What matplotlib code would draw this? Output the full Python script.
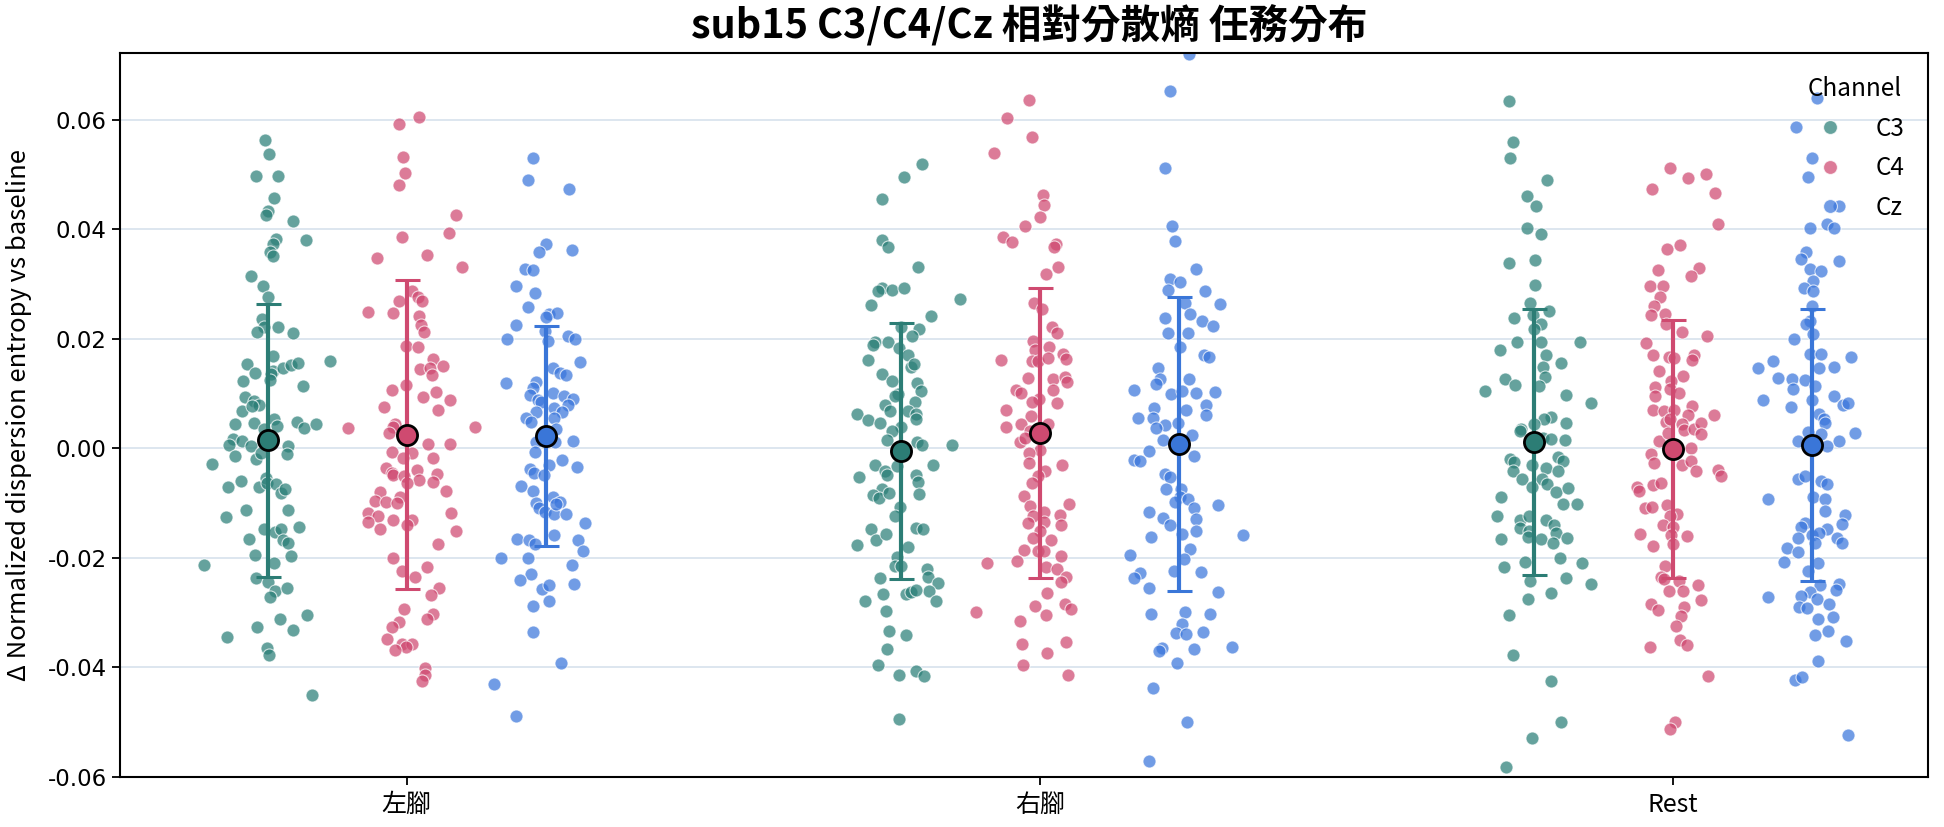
import numpy as np
import matplotlib
matplotlib.use("Agg")
import matplotlib.pyplot as plt
from matplotlib.lines import Line2D

categories = ["左腳", "右腳", "Rest"]
channels = ["C3", "C4", "Cz"]

# ---------------- data values ----------------
left_C3 = [
    0.0564, 0.0538, 0.0498, 0.0498, 0.0457, 0.0434, 0.0427, 0.0416, 0.0381, 0.0383,
    0.0373, 0.0358, 0.0352, 0.0314, 0.0296, 0.0276, 0.0237, 0.0222, 0.0212, 0.0221,
    0.0211, 0.0169, 0.0155, 0.0160, 0.0138, 0.0142, 0.0136, 0.0146, 0.0153, 0.0156,
    0.0123, 0.0125, 0.0114, 0.0094, 0.0087, 0.0079, 0.0068, 0.0077, 0.0045, 0.0046,
    0.0053, 0.0041, 0.0049, 0.0038, 0.0045, 0.0036, 0.0018, 0.0007, 0.0013, 0.0004,
    0.0004, -0.0028, -0.0014, -0.0020, -0.0008, -0.0011, -0.0060, -0.0071, -0.0071, -0.0054,
    -0.0063, -0.0065, -0.0082, -0.0075, -0.0112, -0.0112, -0.0125, -0.0147, -0.0152, -0.0147,
    -0.0143, -0.0166, -0.0167, -0.0172, -0.0194, -0.0196, -0.0213, -0.0210, -0.0236, -0.0244,
    -0.0260, -0.0272, -0.0254, -0.0304, -0.0312, -0.0332, -0.0326, -0.0345, -0.0365, -0.0378,
    -0.0450]
left_C4 = [
    0.0606, 0.0593, 0.0533, 0.0503, 0.0481, 0.0427, 0.0394, 0.0386, 0.0348, 0.0353,
    0.0331, 0.0288, 0.0276, 0.0269, 0.0269, 0.0249, 0.0248, 0.0241, 0.0225, 0.0212,
    0.0187, 0.0185, 0.0163, 0.0145, 0.0146, 0.0150, 0.0134, 0.0116, 0.0107, 0.0103,
    0.0094, 0.0076, 0.0089, 0.0070, 0.0038, 0.0039, 0.0044, 0.0040, 0.0028, 0.0008,
    0.0008, -0.0006, -0.0009, -0.0018, -0.0018, -0.0036, -0.0044, -0.0048, -0.0050, -0.0040,
    -0.0057, -0.0063, -0.0046, -0.0061, -0.0079, -0.0088, -0.0077, -0.0096, -0.0097, -0.0099,
    -0.0118, -0.0124, -0.0134, -0.0130, -0.0130, -0.0140, -0.0147, -0.0118, -0.0150, -0.0175,
    -0.0200, -0.0224, -0.0235, -0.0217, -0.0255, -0.0268, -0.0293, -0.0303, -0.0312, -0.0317,
    -0.0327, -0.0348, -0.0358, -0.0358, -0.0363, -0.0369, -0.0401, -0.0414, -0.0424]
left_Cz = [
    0.0531, 0.0491, 0.0473, 0.0374, 0.0359, 0.0363, 0.0327, 0.0326, 0.0297, 0.0284,
    0.0259, 0.0246, 0.0248, 0.0240, 0.0226, 0.0214, 0.0199, 0.0205, 0.0199, 0.0197,
    0.0158, 0.0146, 0.0138, 0.0134, 0.0119, 0.0121, 0.0111, 0.0102, 0.0097, 0.0089,
    0.0096, 0.0090, 0.0080, 0.0085, 0.0074, 0.0067, 0.0067, 0.0056, 0.0049, 0.0055,
    0.0036, 0.0013, 0.0011, 0.0011, -0.0006, -0.0021, -0.0034, -0.0030, -0.0038, -0.0044,
    -0.0048, -0.0068, -0.0077, -0.0089, -0.0097, -0.0099, -0.0109, -0.0116, -0.0120, -0.0120,
    -0.0101, -0.0136, -0.0165, -0.0167, -0.0175, -0.0158, -0.0167, -0.0188, -0.0200, -0.0200,
    -0.0213, -0.0230, -0.0241, -0.0256, -0.0249, -0.0248, -0.0279, -0.0287, -0.0336, -0.0391,
    -0.0431, -0.0488]
right_C3 = [
    0.0520, 0.0495, 0.0456, 0.0380, 0.0368, 0.0331, 0.0273, 0.0292, 0.0287, 0.0290,
    0.0293, 0.0262, 0.0242, 0.0218, 0.0221, 0.0205, 0.0195, 0.0189, 0.0195, 0.0183,
    0.0170, 0.0161, 0.0148, 0.0155, 0.0135, 0.0123, 0.0119, 0.0104, 0.0100, 0.0096,
    0.0085, 0.0080, 0.0068, 0.0062, 0.0052, 0.0047, 0.0068, 0.0063, 0.0053, 0.0040,
    0.0032, 0.0016, 0.0011, 0.0007, 0.0007, -0.0030, -0.0031, -0.0041, -0.0048, -0.0052,
    -0.0033, -0.0048, -0.0062, -0.0074, -0.0085, -0.0090, -0.0082, -0.0083, -0.0107, -0.0124,
    -0.0148, -0.0167, -0.0156, -0.0145, -0.0148, -0.0176, -0.0180, -0.0199, -0.0214, -0.0215,
    -0.0221, -0.0234, -0.0237, -0.0246, -0.0260, -0.0266, -0.0278, -0.0265, -0.0263, -0.0258,
    -0.0278, -0.0296, -0.0334, -0.0341, -0.0367, -0.0395, -0.0413, -0.0407, -0.0415, -0.0495]
right_C4 = [
    0.0637, 0.0604, 0.0569, 0.0540, 0.0462, 0.0445, 0.0423, 0.0407, 0.0386, 0.0376,
    0.0373, 0.0368, 0.0331, 0.0319, 0.0265, 0.0254, 0.0221, 0.0211, 0.0197, 0.0185,
    0.0180, 0.0173, 0.0163, 0.0161, 0.0159, 0.0159, 0.0165, 0.0129, 0.0126, 0.0131,
    0.0121, 0.0106, 0.0101, 0.0106, 0.0091, 0.0083, 0.0085, 0.0070, 0.0060, 0.0040,
    0.0045, 0.0045, 0.0032, 0.0011, 0.0019, -0.0002, -0.0008, -0.0027, -0.0030, -0.0042,
    -0.0050, -0.0063, -0.0086, -0.0106, -0.0101, -0.0116, -0.0123, -0.0121, -0.0137, -0.0134,
    -0.0139, -0.0150, -0.0164, -0.0167, -0.0185, -0.0188, -0.0188, -0.0197, -0.0210, -0.0205,
    -0.0217, -0.0220, -0.0234, -0.0244, -0.0264, -0.0299, -0.0287, -0.0304, -0.0285, -0.0293,
    -0.0315, -0.0358, -0.0374, -0.0354, -0.0396, -0.0414]
right_Cz = [
    0.0721, 0.0653, 0.0512, 0.0407, 0.0378, 0.0327, 0.0309, 0.0303, 0.0290, 0.0287,
    0.0264, 0.0265, 0.0246, 0.0238, 0.0233, 0.0224, 0.0210, 0.0211, 0.0185, 0.0170,
    0.0166, 0.0147, 0.0126, 0.0117, 0.0126, 0.0107, 0.0099, 0.0104, 0.0101, 0.0103,
    0.0080, 0.0074, 0.0070, 0.0056, 0.0056, 0.0061, 0.0043, 0.0038, 0.0047, 0.0015,
    0.0025, -0.0005, -0.0021, -0.0023, -0.0014, -0.0046, -0.0052, -0.0074, -0.0074, -0.0089,
    -0.0097, -0.0092, -0.0109, -0.0128, -0.0103, -0.0117, -0.0127, -0.0139, -0.0150, -0.0156,
    -0.0158, -0.0161, -0.0183, -0.0194, -0.0202, -0.0224, -0.0226, -0.0227, -0.0237, -0.0255,
    -0.0262, -0.0303, -0.0298, -0.0303, -0.0320, -0.0337, -0.0339, -0.0336, -0.0364, -0.0370,
    -0.0367, -0.0363, -0.0391, -0.0438, -0.0500, -0.0570]
rest_C3 = [
    0.0635, 0.0559, 0.0530, 0.0491, 0.0460, 0.0443, 0.0402, 0.0391, 0.0339, 0.0344,
    0.0298, 0.0266, 0.0250, 0.0238, 0.0243, 0.0227, 0.0218, 0.0180, 0.0195, 0.0194,
    0.0194, 0.0171, 0.0156, 0.0149, 0.0131, 0.0126, 0.0116, 0.0114, 0.0105, 0.0097,
    0.0083, 0.0057, 0.0053, 0.0045, 0.0036, 0.0032, 0.0046, 0.0019, 0.0018, 0.0015,
    -0.0019, -0.0025, -0.0030, -0.0016, -0.0023, -0.0036, -0.0041, -0.0041, -0.0055, -0.0055,
    -0.0065, -0.0079, -0.0071, -0.0072, -0.0089, -0.0101, -0.0101, -0.0123, -0.0131, -0.0124,
    -0.0130, -0.0145, -0.0150, -0.0139, -0.0154, -0.0165, -0.0161, -0.0163, -0.0165, -0.0173,
    -0.0200, -0.0207, -0.0216, -0.0209, -0.0243, -0.0237, -0.0248, -0.0275, -0.0264, -0.0304,
    -0.0378, -0.0425, -0.0500, -0.0528, -0.0581]
rest_C4 = [
    0.0512, 0.0493, 0.0501, 0.0474, 0.0467, 0.0409, 0.0364, 0.0372, 0.0326, 0.0329,
    0.0315, 0.0297, 0.0297, 0.0277, 0.0260, 0.0243, 0.0246, 0.0227, 0.0213, 0.0206,
    0.0193, 0.0170, 0.0167, 0.0165, 0.0170, 0.0161, 0.0141, 0.0133, 0.0112, 0.0123,
    0.0096, 0.0108, 0.0101, 0.0071, 0.0068, 0.0077, 0.0061, 0.0061, 0.0070, 0.0049,
    0.0053, 0.0045, 0.0033, 0.0035, 0.0046, 0.0026, 0.0014, 0.0028, 0.0001, -0.0011,
    -0.0026, -0.0030, -0.0023, -0.0041, -0.0040, -0.0050, -0.0071, -0.0077, -0.0067, -0.0063,
    -0.0109, -0.0107, -0.0104, -0.0120, -0.0124, -0.0139, -0.0143, -0.0156, -0.0158, -0.0160,
    -0.0175, -0.0178, -0.0214, -0.0234, -0.0238, -0.0243, -0.0249, -0.0260, -0.0260, -0.0276,
    -0.0285, -0.0295, -0.0289, -0.0306, -0.0325, -0.0349, -0.0359, -0.0363, -0.0416, -0.0500,
    -0.0513]
rest_Cz = [
    0.0639, 0.0587, 0.0531, 0.0495, 0.0443, 0.0402, 0.0409, 0.0402, 0.0342, 0.0359,
    0.0345, 0.0327, 0.0324, 0.0305, 0.0293, 0.0287, 0.0260, 0.0233, 0.0227, 0.0208,
    0.0199, 0.0172, 0.0173, 0.0146, 0.0149, 0.0167, 0.0146, 0.0159, 0.0129, 0.0127,
    0.0124, 0.0108, 0.0114, 0.0089, 0.0089, 0.0096, 0.0079, 0.0083, 0.0075, 0.0063,
    0.0053, 0.0047, 0.0028, 0.0026, 0.0030, 0.0013, 0.0013, 0.0004, -0.0055, -0.0050,
    -0.0060, -0.0065, -0.0092, -0.0089, -0.0093, -0.0114, -0.0121, -0.0138, -0.0137, -0.0143,
    -0.0158, -0.0147, -0.0154, -0.0163, -0.0163, -0.0172, -0.0173, -0.0181, -0.0190, -0.0207,
    -0.0209, -0.0224, -0.0247, -0.0258, -0.0249, -0.0262, -0.0270, -0.0275, -0.0272, -0.0290,
    -0.0292, -0.0285, -0.0308, -0.0311, -0.0340, -0.0333, -0.0351, -0.0388, -0.0422, -0.0418,
    -0.0523]

# summary statistics shown by the error bars (mean, sd), per category
means_C3 = [0.00145, -0.00045, 0.0012]
means_C4 = [0.0025, 0.00275, -0.0001]
means_Cz = [0.00225, 0.00085, 0.0006]
sds_C3 = [0.0250, 0.02335, 0.0243]
sds_C4 = [0.0282, 0.02645, 0.0235]
sds_Cz = [0.02005, 0.02685, 0.0249]

# ---------------- horizontal jitter of each point (hundredths of a category) ----------------
left_C3_jit = [
    -0.4, 0.2, -1.8, 1.6, 1.0, 0, -0.3, 4.0, 6.1, 1.3,
    0.9, 0.4, 0.8, -2.6, -0.7, 0, -0.8, -0.6, -1.7, 1.6,
    4.0, 0.9, -3.3, 9.8, -2.0, 0.8, 0.5, 2.5, 3.7, 4.8,
    -3.9, 0.4, 5.6, -3.6, -2.2, -1.4, -4.0, -2.5, -5.2, -2.2,
    1.1, 1.5, 4.7, 5.8, 7.6, -0.6, -5.4, -6.1, -4.1, -2.6,
    3.2, -8.8, -5.2, -1.8, -1.1, 3.1, -4.2, -6.3, -1.3, -0.3,
    -0.1, 1.4, 2.1, 2.7, 3.2, -3.4, -6.6, -0.6, 1.2, 2.2,
    4.9, -3.0, 2.5, 3.3, -2.0, 3.7, -10.1, 1.1, -1.8, 0,
    1.2, 0.4, 3.1, 6.2, 1.9, 4.1, -1.7, -6.4, -0.1, 0.2,
    7.0]
left_C4_jit = [
    1.9, -1.2, -0.6, -0.3, -1.2, 7.8, 6.6, -0.7, -4.7, 3.2,
    8.7, 0.9, 1.8, 2.4, -1.3, -6.1, -2.2, 1.9, 2.2, 2.7,
    -0.1, 1.7, 4.1, 2.1, 3.7, 5.7, 4.0, -0.1, -2.4, 4.6,
    2.5, -3.6, 6.8, 4.9, -9.3, 10.8, -1.8, -2.1, -2.8, 3.4,
    6.8, -2.3, 0.8, -0.6, 4.1, -3.3, -2.4, -2.1, -0.5, 1.6,
    1.9, 0, 4.7, 4.1, -4.2, -1.1, 6.2, -5.0, -3.3, -1.6,
    -6.1, -4.5, -6.2, -2.2, 0.9, 0, -4.2, 7.0, 7.8, 4.9,
    -2.2, -0.7, 1.3, 3.2, 5.1, 3.9, -0.4, 4.2, 3.2, -1.3,
    -2.3, -3.2, -0.7, 0.8, -0.1, -1.8, 2.9, 2.9, 2.4]
left_Cz_jit = [
    -2.0, -2.8, 3.7, 0, -1.1, 4.1, -3.3, -2.0, -4.8, -1.8,
    -2.8, 0.5, 1.8, 0, -4.7, -0.1, -6.1, 3.5, 4.5, 0.3,
    5.3, 1.1, 2.2, 3.1, -6.3, -1.6, -2.1, 1.1, -2.5, -1.3,
    2.9, 4.3, 3.4, -0.8, 1.2, 2.5, -1.6, -3.2, -2.4, 1.3,
    1.6, 4.2, -1.6, 1.4, -1.7, 2.5, 4.9, 0.5, -2.5, -1.9,
    -0.4, -3.9, -2.0, 1.1, 2.2, -1.6, -1.1, -0.1, 1.3, 3.2,
    1.6, 6.2, -4.6, -2.7, -1.8, 1.3, 5.1, 5.9, -7.1, -2.8,
    4.1, -2.3, -4.1, -0.7, 0.5, 4.4, 0.5, -2.0, -2.0, 2.3,
    -8.3, -4.8]
right_C3_jit = [
    3.4, 0.5, -3.0, -3.0, -2.0, 2.7, 9.4, -3.0, -3.5, -1.4,
    0.5, -4.7, 4.8, 2.9, 0, 1.8, -4.1, -4.4, -2.0, -0.2,
    1.2, -5.2, 1.6, 2.2, -2.9, -1.3, 2.6, 3.2, -0.4, -0.8,
    2.3, -2.5, -1.6, -6.9, -5.2, -3.3, 1.1, 2.4, 2.4, 0,
    -1.3, -2.1, 2.6, 3.4, 8.2, -4.1, 5.2, -2.4, -2.2, -6.6,
    -0.5, 2.5, 2.7, -2.9, -4.3, -3.4, -1.8, 2.9, -0.1, -0.8,
    -4.7, -3.9, -2.3, 2.4, 3.5, -6.9, 1.2, -0.6, -0.8, 0,
    4.1, 4.3, -3.3, 5.9, 4.5, -2.8, -5.6, 0.8, 1.6, 2.4,
    5.6, -2.3, -1.8, 0.9, -2.1, -3.6, -0.3, 2.5, 3.7, -0.3]
right_C4_jit = [
    -1.7, -5.2, -1.2, -7.2, 0.5, 0.7, 0, -2.3, -5.8, -4.4,
    2.5, 2.2, 2.9, 1.0, -0.9, 0.4, 1.9, 2.7, -1.1, 1.5,
    -0.8, 3.7, 4.2, -6.2, -1.3, -0.3, 1.3, -1.8, 2.1, 3.9,
    4.3, -3.8, -3.0, 2.1, -0.1, 2.7, -1.2, -5.3, -1.4, -5.3,
    -3.0, 1.3, -1.6, -3.2, -2.4, 0, -1.7, -1.7, 3.5, 0.8,
    -0.3, -1.2, -2.5, -1.6, 4.6, 0.7, -1.1, 3.2, -1.8, 0.6,
    3.4, 0, -1.1, 1.8, -2.5, -0.3, 0.7, 3.4, -8.3, -3.6,
    1.0, 2.7, 4.1, 3.4, 1.2, -10.1, -0.7, 1.0, 3.9, 4.9,
    -3.2, -2.8, 1.1, 4.1, -2.6, 4.5]
right_Cz_jit = [
    1.6, -1.5, -2.3, -1.1, -0.7, 2.6, -1.5, 0.1, -1.7, 4.1,
    6.4, 0.9, 1.8, -2.3, 3.6, 5.4, -1.7, 1.4, 0.2, 3.9,
    4.7, -3.4, -3.0, -3.7, 1.6, -7.1, -1.3, 0.5, 2.7, 5.7,
    4.2, -3.9, 1.1, -6.5, -4.2, 4.2, -2.3, -3.7, -0.1, -2.6,
    2.1, -4.7, -7.1, -6.2, 2.4, -2.3, -1.5, -2.0, 0.3, 0.1,
    -0.6, 1.4, 2.4, 2.6, 6.2, -4.7, -2.5, -1.4, 2.7, 0.4,
    10.1, -4.4, 1.7, -7.8, 0.7, -0.8, 3.4, -6.1, -7.1, -4.8,
    6.2, -4.5, 0.9, 4.9, 0.5, -0.5, 1.1, 3.7, -2.7, -3.2,
    2.3, 8.3, -0.4, -4.2, 1.2, -4.7]
rest_C3_jit = [
    -3.9, -3.3, -3.8, 2.1, -1.1, 0.3, -1.1, 1.1, -3.9, 0.2,
    0.2, -0.6, 2.4, -3.1, -0.1, 1.1, 0, -5.3, -2.7, 1.2,
    7.3, 2.0, 4.4, 1.5, 1.8, -4.5, -3.0, 0.9, -7.7, 5.1,
    9.0, 2.8, 1.7, 0, -2.0, -2.1, 5.1, 1.5, 2.7, 4.9,
    -3.8, -3.1, -0.3, 3.8, 4.6, 1.9, 3.9, -3.3, -1.8, 1.4,
    2.1, 3.5, -0.3, 5.5, -5.2, 4.6, 6.9, -5.8, -2.1, -0.8,
    2.0, -2.2, -0.7, 3.3, 3.6, 1.1, -0.9, 5.2, -5.2, 3.1,
    4.2, -1.4, -4.6, 7.6, -0.6, 5.1, 9.0, -0.9, 2.7, -3.9,
    -3.2, 2.8, 4.4, -0.3, -4.3]
rest_C4_jit = [
    -0.5, 2.4, 5.2, -3.3, 6.7, 7.1, -0.9, 1.1, -2.4, 4.1,
    2.8, -3.6, -1.6, -2.0, -3.0, -3.5, -1.3, -1.05, 1.4, 5.4,
    -4.3, -3.2, -0.6, 0.1, 3.3, 3.0, -2.2, 1.6, -2.8, -0.3,
    -2.8, -0.5, 0.9, -3.2, -1.4, 3.0, 2.4, 6.5, 0.1, -1.05,
    -0.4, 1.4, 1.8, 3.3, 4.5, 4.4, -2.2, -0.8, 2.8, -3.5,
    -3.0, 1.4, 2.8, 3.6, 7.2, 7.6, -5.6, -5.4, -3.2, -1.9,
    -4.4, -3.3, -1.0, 0.6, -0.4, -1.5, 0, -5.2, -0.3, 2.2,
    0, -3.2, -1.3, -1.9, -1.4, 1.0, 3.9, -0.6, 1.6, 4.5,
    -3.5, -2.4, 1.8, 1.3, 0.5, 1.2, 2.2, -3.6, 5.6, 0.3,
    -0.5]
rest_Cz_jit = [
    0.7, -2.6, -0.1, -0.6, 4.3, -0.3, 2.3, 3.5, 4.3, -0.9,
    -1.7, -0.4, 1.4, 0.1, -1.3, 0.1, -0.1, -0.4, -0.9, 0.1,
    -2.9, -0.4, 1.4, 1.1, 3.5, 6.2, -8.6, -6.2, -5.4, -3.2,
    -1.2, -3.05, 0.5, -7.7, -0.1, 3.4, 4.9, 5.7, -3.3, 1.1,
    1.8, 2.0, 6.8, 1.4, -0.7, -2.2, 4.2, 2.4, -2.3, -1.1,
    1.4, 2.3, -6.9, 0.1, 2.1, 2.1, 5.2, 4.7, -1.1, -1.8,
    0, 2.4, 1.05, -2.3, 4.0, 4.7, 0.4, -3.9, -2.2, -4.4,
    0.9, -0.7, 4.2, 3.8, 1.2, -0.4, -1.8, 0.7, -7.0, -2.1,
    -0.8, 2.7, 3.3, 0.9, 0.5, 2.5, 5.3, 0.9, -2.7, -1.6,
    5.6]

# ---------------- assemble ----------------
values = {
    "C3": [left_C3, right_C3, rest_C3],
    "C4": [left_C4, right_C4, rest_C4],
    "Cz": [left_Cz, right_Cz, rest_Cz],
}
jitters = {
    "C3": [left_C3_jit, right_C3_jit, rest_C3_jit],
    "C4": [left_C4_jit, right_C4_jit, rest_C4_jit],
    "Cz": [left_Cz_jit, right_Cz_jit, rest_Cz_jit],
}
means = {"C3": means_C3, "C4": means_C4, "Cz": means_Cz}
sds = {"C3": sds_C3, "C4": sds_C4, "Cz": sds_Cz}

dodge = {"C3": -0.22, "C4": 0.0, "Cz": 0.22}
point_colors = {"C3": "#2a7e77", "C4": "#cf4870", "Cz": "#3a76dc"}
bar_colors = {"C3": "#2c7d75", "C4": "#cf4a70", "Cz": "#3a76d8"}

plt.rcParams['font.family'] = ['Noto Sans CJK TC', 'DejaVu Sans']
plt.rcParams['axes.unicode_minus'] = False

W, H = 1944, 827
fig = plt.figure(figsize=(W / 100, H / 100), dpi=100)
ax = fig.add_axes([120 / W, 1 - 777 / H, 1808 / W, 724 / H])

for ch in channels:
    for i, cat in enumerate(categories):
        y = np.asarray(values[ch][i])
        jit = np.asarray(jitters[ch][i]) / 100.0
        x = i + dodge[ch] + jit
        ax.scatter(x, y, s=88, color=point_colors[ch], alpha=0.72,
                   edgecolors="white", linewidths=0.8, zorder=2)

for ch in channels:
    for i, cat in enumerate(categories):
        xc = i + dodge[ch]
        ax.errorbar(xc, means[ch][i], yerr=sds[ch][i], fmt="none",
                    ecolor=bar_colors[ch], elinewidth=3.0, capsize=9,
                    capthick=2.2, zorder=3)
        ax.plot(xc, means[ch][i], "o", ms=14.5, mfc=bar_colors[ch],
                mec="black", mew=2.0, zorder=4)

ax.set_xlim(-0.453, 2.403)
ax.set_ylim(-0.06, 0.0722)
ax.set_xticks(range(len(categories)))
ax.set_xticklabels(categories, fontsize=18)
yt = [-0.06, -0.04, -0.02, 0.0, 0.02, 0.04, 0.06]
ax.set_yticks(yt)
ax.set_yticklabels([f"{v:.2f}" for v in yt], fontsize=16.5, family="DejaVu Sans")
ax.yaxis.grid(True, color="#dae4ee", linewidth=1.3)
ax.set_axisbelow(True)
for sp in ax.spines.values():
    sp.set_linewidth(1.5)
    sp.set_color("black")
ax.tick_params(axis="both", length=6, width=1.3)
ax.tick_params(axis="x", pad=5)

fig.text(19 / W, 1 - 415 / H, "Δ Normalized dispersion entropy vs baseline",
         rotation=90, ha="center", va="center", fontsize=18.5)

handles = [Line2D([], [], marker="o", linestyle="none", markersize=10,
                  markerfacecolor=point_colors[ch], markeredgecolor="white",
                  markeredgewidth=0.8, alpha=0.72) for ch in channels]
leg = ax.legend(handles, channels, title="Channel", loc="upper right",
                frameon=False, fontsize=17.5, title_fontsize=17.5,
                borderaxespad=0.55, labelspacing=0.56, handletextpad=0.9)

fig.text(1029 / W, 1 - 27 / H, "sub15 C3/C4/Cz 相對分散熵 任務分布",
         ha="center", va="center", fontsize=28.5, fontweight="bold")

fig.savefig("out.png", dpi=100)
